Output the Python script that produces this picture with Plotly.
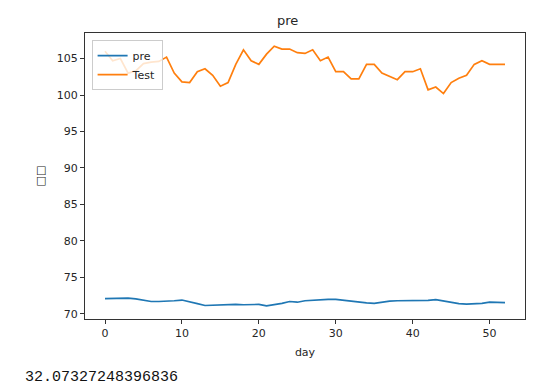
import plotly.graph_objects as go

days = list(range(53))

pre = [72.1, 72.1, 72.2, 72.15, 72.05, 71.9, 71.7, 71.7, 71.7, 71.8,
       71.9, 71.7, 71.4, 71.15, 71.2, 71.3, 71.3, 71.3, 71.25, 71.3,
       71.3, 71.1, 71.25, 71.45, 71.7, 71.6, 71.8, 71.9, 72.0, 72.0,
       72.0, 71.85, 71.7, 71.6, 71.5, 71.45, 71.65, 71.75, 71.8, 71.8,
       71.8, 71.8, 71.85, 71.95, 71.75, 71.55, 71.4, 71.35, 71.35, 71.45,
       71.6, 71.6, 71.55]

test = [106.0, 104.7, 105.0, 103.0, 103.3, 104.3, 104.5, 104.6, 105.2, 103.0,
        101.8, 101.7, 103.2, 103.6, 102.7, 101.2, 101.7, 104.2, 106.2, 104.7,
        104.2, 105.6, 106.7, 106.3, 106.3, 105.8, 105.7, 106.2, 104.7, 105.2,
        103.2, 103.2, 102.2, 102.2, 104.2, 104.2, 103.0, 102.6, 102.1, 103.2,
        103.2, 103.6, 100.7, 101.1, 100.2, 101.7, 102.3, 102.7, 104.2, 104.7,
        104.2, 104.2, 104.2]

x_ticks = [0, 10, 20, 30, 40, 50]
y_ticks = [70, 75, 80, 85, 90, 95, 100, 105]
title_text = "pre"
x_label = "day"
y_label = "□□"
printed_value = "32.07327248396836"

font = "DejaVu Sans"
txt = "#262626"

fig = go.Figure()
fig.add_trace(go.Scatter(x=days, y=pre, mode="lines", name="pre",
                         line=dict(color="#1f77b4", width=1.7)))
fig.add_trace(go.Scatter(x=days, y=test, mode="lines", name="Test",
                         line=dict(color="#ff7f0e", width=1.7)))

axis_common = dict(showgrid=False, zeroline=False, showline=True, mirror=True,
                   linecolor="#333333", linewidth=1, ticks="outside", ticklen=4,
                   tickcolor="#333333", tickfont=dict(family=font, size=11, color=txt))

fig.update_layout(
    width=556, height=386,
    margin=dict(l=85, r=31, t=33, b=67),
    paper_bgcolor="white", plot_bgcolor="white",
    font=dict(family=font, size=11, color=txt),
    showlegend=True,
    legend=dict(x=0.015, y=0.975, xanchor="left", yanchor="top",
                bgcolor="rgba(255,255,255,0.8)", bordercolor="#cccccc", borderwidth=1,
                font=dict(family=font, size=11, color=txt),
                itemwidth=30, tracegroupgap=0),
    xaxis=dict(range=[-2.6, 54.6], tickvals=x_ticks,
               title=dict(text=x_label, standoff=9, font=dict(family=font, size=11, color=txt)),
               **axis_common),
    yaxis=dict(range=[69.3, 108.5], tickvals=y_ticks,
               title=dict(text=y_label, standoff=9, font=dict(family=font, size=11, color=txt)),
               **axis_common),
    annotations=[
        dict(text=title_text, xref="paper", yref="paper", x=0.46, y=1.0,
             xanchor="center", yanchor="bottom", yshift=3, showarrow=False,
             font=dict(family=font, size=13, color=txt)),
        dict(text=printed_value, xref="paper", yref="paper", x=-0.141, y=-0.205,
             xanchor="left", yanchor="middle", showarrow=False,
             font=dict(family="Liberation Mono", size=15, color="#111111")),
    ],
)

fig.write_html("out.html", config={"displayModeBar": False},
               post_script="document.body.style.margin='0';document.body.style.overflow='hidden';")
